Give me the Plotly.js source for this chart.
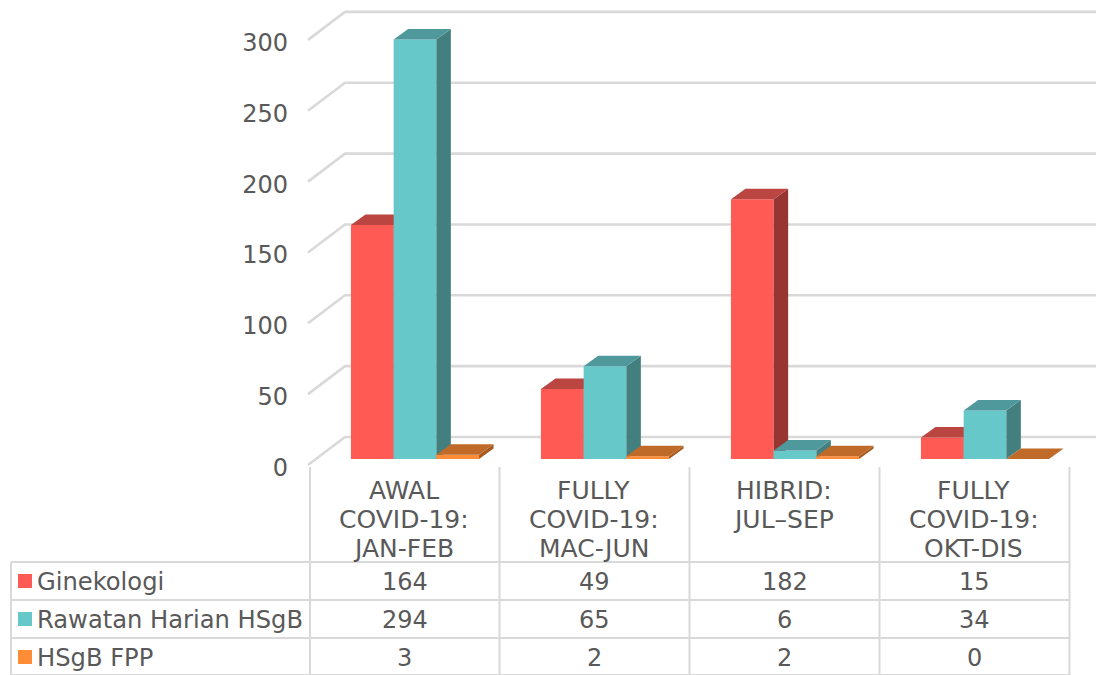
<!DOCTYPE html>
<html>
<head>
<meta charset="utf-8">
<script src="https://cdn.plot.ly/plotly-3.0.1.min.js"></script>
<style>html,body{margin:0;padding:0;background:#fff}#c{width:1096px;height:675px}</style>
</head>
<body>
<div id="c"></div>
<script>
const categoryLines = [['AWAL','COVID-19:','JAN-FEB'],['FULLY','COVID-19:','MAC-JUN'],['HIBRID:','JUL–SEP'],['FULLY','COVID-19:','OKT-DIS']];
const seriesNames = ['Ginekologi','Rawatan Harian HSgB','HSgB FPP'];
const ginekologi = [164,49,182,15];
const rawatanHarian = [294,65,6,34];
const hsgbFpp = [3,2,2,0];
const yTicks = [0,50,100,150,200,250,300];
const frontColors = ['#FF5A54','#67C8C9','#FF8C36'];
const sideColors = ['#963633','#447F80','#A65A20'];
const topColors = ['#BB4541','#4F989B','#BF6A28'];
const gridColor = '#D9D9D9', textColor = '#595959', fontFamily = 'DejaVu Sans, Verdana, sans-serif';

const W = 1096, H = 675;
const xZero = 404.5, xUnit = 190;
const labelDrop = 2.5;
const wall = {zero:465+labelDrop, unit:1.417}, barA = {zero:459, unit:1.427};
const rng = a => [(a.zero-H)/a.unit, a.zero/a.unit];

const wallDx = 37/xUnit, wallDy = 28/wall.unit, wallLift = labelDrop/wall.unit;
const wallRight = (W+5-xZero)/xUnit, wallLeft = (308-xZero)/xUnit;
const barW = 42.7/xUnit, groupShift = 10.5/xUnit, depthX = 14.5/xUnit, depthY = 10.5/barA.unit;

const traces = [];
yTicks.forEach(v=>{
  traces.push({type:'scatter',mode:'lines',xaxis:'x',yaxis:'y',hoverinfo:'skip',showlegend:false,
    x:[wallLeft,wallLeft+wallDx,wallRight],y:[v+wallLift,v+wallLift+wallDy,v+wallLift+wallDy],
    line:{color:gridColor,width:2.6}});
});
[ginekologi,rawatanHarian,hsgbFpp].forEach((vals,s)=>{
  const xs = vals.map((_,i)=>i+groupShift+(s-1)*barW);
  traces.push({type:'bar',name:seriesNames[s],x:xs,y:vals,width:barW,xaxis:'x2',yaxis:'y2',zorder:s+1,
    marker:{color:frontColors[s],line:{width:0}},showlegend:false});
  const sx=[],sy=[],tx=[],ty=[];
  vals.forEach((v,i)=>{
    const L=xs[i]-barW/2,R=xs[i]+barW/2;
    sx.push(R,R+depthX,R+depthX,R,null); sy.push(0,depthY,v+depthY,v,null);
    tx.push(L,R,R+depthX,L+depthX,null); ty.push(v,v,v+depthY,v+depthY,null);
  });
  traces.push({type:'scatter',mode:'lines',x:sx,y:sy,xaxis:'x2',yaxis:'y2',zorder:s+1,fill:'toself',fillcolor:sideColors[s],line:{width:0},hoverinfo:'skip',showlegend:false});
  traces.push({type:'scatter',mode:'lines',x:tx,y:ty,xaxis:'x2',yaxis:'y2',zorder:s+1,fill:'toself',fillcolor:topColors[s],line:{width:0},hoverinfo:'skip',showlegend:false});
});

const px = x=>x/W, py = y=>1-y/H;
const shapes = [], annotations = [];
const hline=(x0,x1,y)=>shapes.push({type:'line',xref:'paper',yref:'paper',x0:px(x0),x1:px(x1),y0:py(y),y1:py(y),line:{color:gridColor,width:2}});
const vline=(x,y0,y1)=>shapes.push({type:'line',xref:'paper',yref:'paper',x0:px(x),x1:px(x),y0:py(y0),y1:py(y1),line:{color:gridColor,width:2}});
const colX=[310,499.5,689.5,879.5,1069.5], rowY=[562,600,638,675], rowMid=[581,619,657], textMid=[582,620,658], lineMid=[490,519,548];
colX.forEach(x=>vline(x,467,H));
vline(11,562,H);
rowY.forEach(y=>hline(11,1069.5,y));
categoryLines.forEach((lines,i)=>lines.forEach((t,j)=>annotations.push({xref:'x',yref:'paper',x:i-0.005,y:py(lineMid[j]),xanchor:'center',yanchor:'middle',showarrow:false,text:t,font:{family:fontFamily,size:25,color:textColor}})));
[ginekologi,rawatanHarian,hsgbFpp].forEach((vals,s)=>{
  shapes.push({type:'rect',xref:'paper',yref:'paper',x0:px(18),x1:px(32),y0:py(rowMid[s]+7),y1:py(rowMid[s]-7),fillcolor:frontColors[s],line:{width:0}});
  annotations.push({xref:'paper',yref:'paper',x:px(35),y:py(textMid[s]),xanchor:'left',yanchor:'middle',showarrow:false,text:seriesNames[s],font:{family:fontFamily,size:24.2,color:textColor}});
  vals.forEach((v,i)=>annotations.push({xref:'x',yref:'paper',x:i,y:py(textMid[s]),xanchor:'center',yanchor:'middle',showarrow:false,text:String(v),font:{family:fontFamily,size:24,color:textColor}}));
});

const xr=[(0-xZero)/xUnit,(W-xZero)/xUnit];
const layout = {
  width:W,height:H,margin:{l:0,r:0,t:0,b:0},paper_bgcolor:'#fff',plot_bgcolor:'rgba(0,0,0,0)',showlegend:false,
  barmode:'overlay',
  xaxis:{range:xr,domain:[0,1],visible:false},
  yaxis:{range:rng(wall),domain:[0,1],anchor:'free',position:px(308),side:'left',tickmode:'array',tickvals:yTicks,ticks:'',showgrid:false,zeroline:false,showline:false,
    ticklabelstandoff:20,tickfont:{family:fontFamily,size:24,color:textColor}},
  xaxis2:{range:xr,overlaying:'x',visible:false,anchor:'y2'},
  yaxis2:{range:rng(barA),overlaying:'y',visible:false,anchor:'x2'},
  shapes,annotations
};
Plotly.newPlot('c',traces,layout,{displayModeBar:false,staticPlot:true});
</script>
</body>
</html>
